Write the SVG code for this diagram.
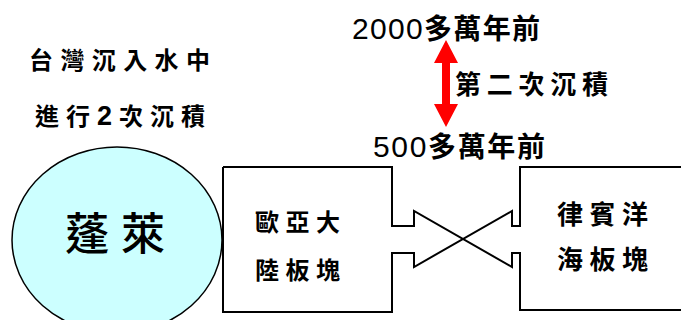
<svg xmlns="http://www.w3.org/2000/svg" width="681" height="320" viewBox="0 0 681 320">
<style>
.c{font-family:"Noto Sans CJK TC","Noto Sans CJK SC",sans-serif;font-weight:bold;fill:#000}
.d{font-family:"Liberation Sans",sans-serif;font-weight:normal}
.plate{fill:none;stroke:#000;stroke-width:2;stroke-linejoin:miter}
</style>
<rect width="681" height="320" fill="#fff"/>
<g id="caption">
<text class="c" x="29" y="69" font-size="24" textLength="181" lengthAdjust="spacing">台灣沉入水中</text>
<text class="c" x="35" y="125" font-size="24" textLength="170" lengthAdjust="spacing">進行<tspan class="d" style="font-weight:bold" font-size="27">2</tspan>次沉積</text>
</g>
<g id="penglai">
<ellipse cx="117" cy="240" rx="105" ry="93" fill="#ccffff" stroke="#000" stroke-width="1.5"/>
<text class="c" x="65" y="250" font-size="44" style="font-weight:500" textLength="100" lengthAdjust="spacing">蓬萊</text>
</g>
<g id="time-labels">
<text class="c" x="352" y="39" font-size="28" textLength="188" lengthAdjust="spacing"><tspan class="d" font-size="30">2000</tspan>多萬年前</text>
<text class="c" x="455" y="94" font-size="26" textLength="153" lengthAdjust="spacing">第二次沉積</text>
<text class="c" x="373" y="157" font-size="28" textLength="172" lengthAdjust="spacing"><tspan class="d" font-size="30">500</tspan>多萬年前</text>
</g>
<g id="connectors">
<polygon points="446,40 458,63 450,63 450,104 458,104 446,127 434,104 442,104 442,63 434,63" fill="#ff0000"/>
<path class="plate" d="M223,167 H392 V226 H414 V211 L512,267 V253 H520 V310 H690"/>
<path class="plate" d="M223,167 V312 H392 V253 H414 V267 L512,211 V226 H520 V167 H690"/>
</g>
<g id="eurasia">
<text class="c" x="255" y="231" font-size="24" textLength="85" lengthAdjust="spacing">歐亞大</text>
<text class="c" x="255" y="279" font-size="24" textLength="85" lengthAdjust="spacing">陸板塊</text>
</g>
<g id="philippine">
<text class="c" x="557" y="224" font-size="26" textLength="91" lengthAdjust="spacing">律賓洋</text>
<text class="c" x="557" y="269" font-size="26" textLength="91" lengthAdjust="spacing">海板塊</text>
</g>
</svg>
